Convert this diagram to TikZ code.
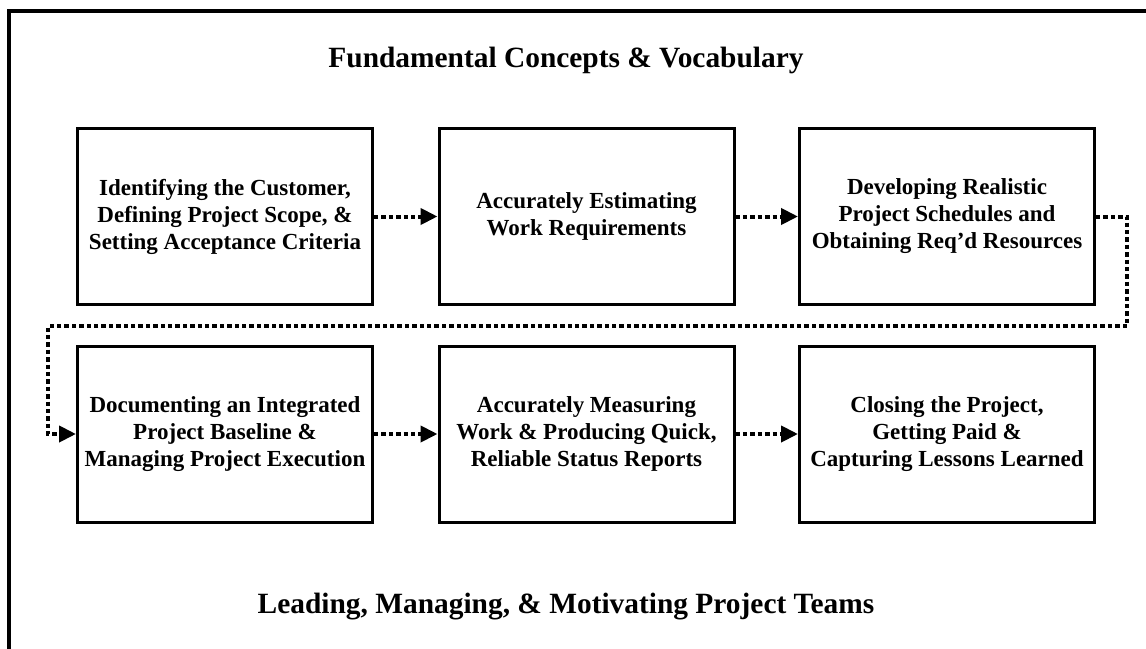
\documentclass[tikz,border=0pt]{standalone}
\usepackage{fontspec}
\setmainfont{Liberation Serif}
\usetikzlibrary{arrows.meta}
\begin{document}
\begin{tikzpicture}[x=0.5pt,y=-0.5pt,
	stagebox/.style={draw,line width=1.5pt,minimum width=147.5pt,minimum height=88pt,inner sep=0pt,align=center,font=\bfseries\fontsize{11.5}{13.5}\selectfont},
	headline/.style={anchor=base,font=\bfseries\fontsize{14.7}{16}\selectfont},
	flow/.style={line width=2pt,dash pattern=on 2.2pt off 1.5pt,-{Triangle[length=8.5pt,width=8pt]}}]
				\useasboundingbox (0,0) rectangle (1146,648);
				\clip (0,0) rectangle (1146,648);
				\draw[line width=1.75pt] (8.75,10.75) rectangle (1200,720);
				\node[headline] (top) at (566,68) {Fundamental Concepts \& Vocabulary};
				\node[headline] (bottom) at (566,613) {Leading, Managing, \& Motivating Project Teams};
				\node[stagebox] (scope) at (225,216.5) {Identifying the Customer,\\Defining Project Scope, \&\\Setting Acceptance Criteria};
				\node[stagebox] (estimate) at (586.5,216.5) {Accurately Estimating\\Work Requirements};
				\node[stagebox] (schedule) at (947,216.5) {Developing Realistic\\Project Schedules and\\Obtaining Req’d Resources};
				\node[stagebox] (baseline) at (225,434) {Documenting an Integrated\\Project Baseline \&\\Managing Project Execution};
				\node[stagebox] (measure) at (586.5,434) {Accurately Measuring\\Work \& Producing Quick,\\Reliable Status Reports};
				\node[stagebox] (closing) at (947,434) {Closing the Project,\\Getting Paid \&\\Capturing Lessons Learned};
				\coordinate (turnright) at (1127,326);
				\coordinate (turnleft) at (48,326);
				\draw[flow] (scope) -- (estimate);
				\draw[flow] (estimate) -- (schedule);
				\draw[flow] (schedule.east) -| (turnright) -- (turnleft) |- (baseline.west);
				\draw[flow] (baseline) -- (measure);
				\draw[flow] (measure) -- (closing);
\end{tikzpicture}
\end{document}
